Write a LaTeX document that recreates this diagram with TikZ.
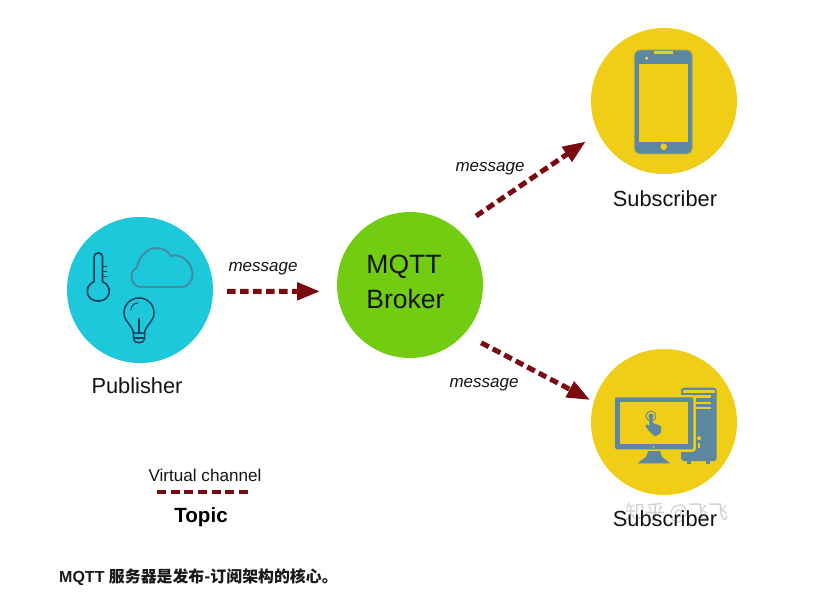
\documentclass[tikz,border=0pt]{standalone}
\usepackage{fontspec}
\setmainfont{Liberation Sans}
\newfontfamily\cjk{Noto Sans CJK SC}
\usetikzlibrary{arrows.meta}

\definecolor{pubcyan}{HTML}{1CC8DA}
\definecolor{brokergreen}{HTML}{72CC12}
\definecolor{subyellow}{HTML}{F0CD16}
\definecolor{msgred}{HTML}{7A0A10}
\definecolor{iconblue}{HTML}{5B87A0}
\definecolor{iconnavy}{HTML}{123F5C}
\definecolor{cloudblue}{HTML}{3F8DA3}

\tikzset{
	client/.style={circle, minimum size=146pt, inner sep=0pt},
	caption/.style={font=\fontsize{21.8}{24}\selectfont, text=black!92, inner sep=0pt},
	msglabel/.style={font=\fontsize{17}{20}\selectfont\itshape, text=black!92, inner sep=0pt},
	msgline/.style={msgred, line width=5pt, dash pattern=on 8.5pt off 4.5pt, -{Triangle[length=23pt,width=17pt]}},
}

\begin{document}
\begin{tikzpicture}[x=1pt, y=-1pt]
	\useasboundingbox (0,0) rectangle (817,599);
	% die Kreise
	\node[client, fill=pubcyan] (pub) at (140,290) {};
	\node[client, fill=brokergreen] (broker) at (410,285) {};
	\node[client, fill=subyellow] (phonesub) at (664,101) {};
	\node[client, fill=subyellow] (desksub) at (664,422) {};
	% die Pfeile
	\draw[msgline, shorten <=14pt, shorten >=17pt] (pub.-1) -- (broker.185);
	\draw[msgline, shorten <=23pt, shorten >=15pt] (broker.50) -- (phonesub.206);
	\draw[msgline, shorten <=19pt, shorten >=4pt] (broker.318) -- (desksub.164);
	% Beschriftung
	\node[msglabel] (msgpub) at (263,269) {message};
	\node[msglabel] (msgphone) at (490,169) {message};
	\node[msglabel] (msgdesk) at (484,385) {message};
	\node[font=\fontsize{26.5}{35}\selectfont, text=black!92, align=left, inner sep=0pt] (brokertext) at (405.5,282) {MQTT\\Broker};
	\node[caption] (publabel) at (137,386) {Publisher};
	\node[caption] (phonelabel) at (665,199) {Subscriber};
	\node[font=\fontsize{20}{22}\selectfont\cjk, text=black!18, inner sep=0pt] (watermark) at (677,513) {知乎 @飞飞};
	\node[caption] (desklabel) at (665,519) {Subscriber};
	% die Legende
	\node[font=\fontsize{17.1}{20}\selectfont, text=black!92, inner sep=0pt] (channel) at (205,475) {Virtual channel};
	\coordinate (topicleft) at (157,492);
	\coordinate (topicright) at (248,492);
	\draw[msgred, line width=4pt, dash pattern=on 9pt off 4.67pt] (topicleft) -- (topicright);
	\node[font=\fontsize{20.6}{24}\selectfont\bfseries, inner sep=0pt] (topic) at (201,517) {Topic};
	\node[anchor=west, font=\fontsize{16}{18}\selectfont\bfseries, text=black!90, inner sep=0pt] (note) at (59,577) {MQTT {\fontsize{15.9}{18}\selectfont\cjk\bfseries 服务器是发布-订阅架构的核心。}};
	% Thermometer
	\draw[iconnavy, line width=1.7pt] (94.1,281.6) -- (94.1,257) .. controls (94.1,251.5) and (102.5,251.5) .. (102.5,257) -- (102.5,281.6) .. controls (113,286) and (111,301) .. (98.3,301) .. controls (85.5,301) and (83.5,286) .. (94.1,281.6) -- cycle;
	\draw[iconnavy, line width=1.4pt] (102.5,266.7) -- (107,266.7);
	\draw[iconnavy, line width=1.4pt] (102.5,271.7) -- (107,271.7);
	\draw[iconnavy, line width=1.4pt] (102.5,276.7) -- (107,276.7);
	% Wolke
	\draw[cloudblue, line width=2pt] (141,287) .. controls (134,287) and (131.5,281) .. (131.5,276) .. controls (131.5,272) and (134,269) .. (137,267.5) .. controls (139,256) and (148,248) .. (156,248) .. controls (163,248) and (168,251) .. (171,256) .. controls (181,253) and (192,262) .. (192.5,274) .. controls (192.5,282) and (187,287) .. (182,287) -- cycle;
	% Gluehbirne
	\draw[iconnavy, line width=1.5pt] (133.5,333) .. controls (132,324) and (124,322) .. (124,313) .. controls (124,304) and (131,298) .. (139,298) .. controls (147,298) and (154,304) .. (154,313) .. controls (154,322) and (146,324) .. (144.5,333) -- cycle;
	\draw[iconnavy, line width=1.5pt] (133.5,333) -- (133.5,339) .. controls (133.5,344) and (144.5,344) .. (144.5,339) -- (144.5,333);
	\draw[iconnavy, line width=1.1pt] (133.5,338) -- (144.5,338);
	\draw[iconnavy, line width=1.1pt] (139,318) -- (139,333);
	\draw[iconnavy, line width=1.1pt] (131,310) .. controls (131,306) and (134,303) .. (138,303);
	% Handy
	\draw[subyellow!60!iconblue, fill=iconblue, line width=0.8pt, rounded corners=6pt] (634.3,50) rectangle (692.3,154);
	\fill[subyellow] (639.3,64) rectangle (687.7,141.7);
	\fill[subyellow] (654,51) rectangle (673,54.3);
	\fill[subyellow!70!white] (646.7,58.3) circle (1.7);
	\fill[subyellow] (663.7,146.7) circle (3.3);
	% Computer
	\fill[iconblue, rounded corners=3pt] (681,387.7) rectangle (716.7,461);
	\fill[subyellow] (683,390) rectangle (714.5,393);
	\fill[iconblue] (687,461) rectangle (691,463.5);
	\fill[iconblue] (706,461) rectangle (710,463.5);
	\fill[subyellow] (695,395) rectangle (710.7,398);
	\fill[subyellow] (695,401.7) rectangle (710.7,404.3);
	\fill[subyellow] (695,406.7) rectangle (710.7,409.3);
	\fill[subyellow] (699,438.3) circle (2);
	\fill[subyellow] (698.2,443.3) rectangle (699.8,448.3);
	\fill[subyellow, rounded corners=3pt] (612.5,395) rectangle (695.8,451.8);
	\fill[iconblue, rounded corners=2pt] (615,397.3) rectangle (693.3,449.3);
	\fill[subyellow] (620,402.3) rectangle (688.3,444.3);
	\fill[subyellow] (653.5,446.8) circle (1);
	\fill[iconblue] (648.3,451) -- (660,451) -- (662,457) -- (670,463.3) -- (637.3,463.3) -- (646,457) -- cycle;
	% Hand
	\draw[iconblue, line width=0.9pt] (651,416) circle (5);
	\fill[iconblue] (651,416) circle (2.5);
	\fill[iconblue, rounded corners=1pt] (649.3,416) -- (652.7,416) -- (652.7,423) -- (661,426) -- (661,433) -- (655,436.5) -- (649,431) -- (645,425.5) -- (647,424) -- (649.3,426.5) -- cycle;
\end{tikzpicture}
\end{document}
